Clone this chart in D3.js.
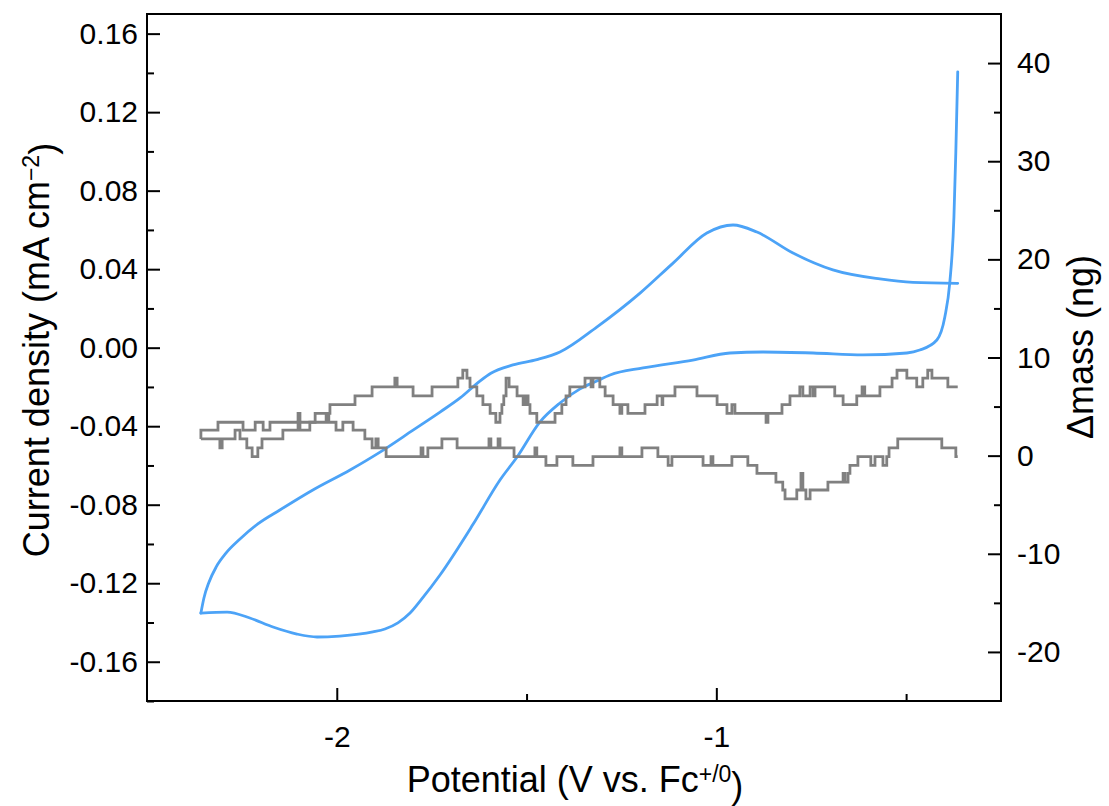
<!DOCTYPE html>
<html>
<head>
<meta charset="utf-8">
<script src="https://cdn.jsdelivr.net/npm/d3@7"></script>
<style>
  html, body { margin: 0; padding: 0; background: #fff; }
  svg { display: block; }
  text { font-family: "Liberation Sans", Arial, sans-serif; fill: #000; }
</style>
</head>
<body>
<svg id="chart" width="1109" height="806"></svg>
<script>
// Cyclic voltammogram: potential (V vs. Fc+/0) and current density (mA cm^-2).
// The loop runs from the positive end along the upper branch to the negative
// vertex, then back along the lower branch.
const cvPotential = [-0.364, -0.482, -0.569, -0.693, -0.798, -0.893, -0.956, -1.025, -1.114, -1.201,
  -1.315, -1.412, -1.473, -1.536, -1.594, -1.623, -1.675, -1.728, -1.799, -1.886,
  -1.965, -2.063, -2.150, -2.208, -2.255, -2.292, -2.318, -2.337, -2.350, -2.358,
  -2.289, -2.229, -2.168, -2.105, -2.052, -1.992, -1.905, -1.873, -1.839, -1.807,
  -1.776, -1.728, -1.641, -1.570, -1.525, -1.465, -1.412, -1.359, -1.315, -1.280,
  -1.193, -1.062, -0.964, -0.877, -0.745, -0.614, -0.498, -0.464, -0.419, -0.398,
  -0.385, -0.374, -0.369, -0.364];
const cvCurrent = [0.0328, 0.0333, 0.0350, 0.0396, 0.0482, 0.0589, 0.0625, 0.0584, 0.0431, 0.0278,
  0.0105, -0.0022, -0.0061, -0.0088, -0.0130, -0.0170, -0.0256, -0.0328, -0.0420, -0.0532,
  -0.0623, -0.0725, -0.0827, -0.0898, -0.0975, -0.1047, -0.1118, -0.1196, -0.1275, -0.1352,
  -0.1347, -0.1377, -0.1423, -0.1459, -0.1474, -0.1469, -0.1448, -0.1433, -0.1402, -0.1352,
  -0.1280, -0.1158, -0.0900, -0.0674, -0.0557, -0.0379, -0.0282, -0.0210, -0.0170, -0.0139,
  -0.0103, -0.0063, -0.0027, -0.0022, -0.0027, -0.0037, -0.0027, -0.0012, 0.0039, 0.0156,
  0.0330, 0.0666, 0.0998, 0.1405];

// Mass change (ng), a stepped signal; lower and upper traces
const massLowerE = [-2.358, -2.308, -2.302, -2.268, -2.255, -2.237, -2.223, -2.208, -2.197, -2.142,
  -2.102, -2.097, -2.071, -2.028, -2.021, -2.002, -1.984, -1.957, -1.926, -1.907,
  -1.897, -1.891, -1.870, -1.778, -1.773, -1.760, -1.723, -1.683, -1.599, -1.594,
  -1.575, -1.570, -1.533, -1.478, -1.473, -1.449, -1.420, -1.378, -1.325, -1.254,
  -1.249, -1.196, -1.154, -1.127, -1.117, -1.035, -1.014, -1.009, -0.959, -0.917,
  -0.893, -0.843, -0.825, -0.819, -0.788, -0.777, -0.772, -0.764, -0.753, -0.706,
  -0.666, -0.661, -0.653, -0.648, -0.627, -0.593, -0.582, -0.561, -0.551, -0.545,
  -0.522, -0.406, -0.369, -0.364];
const massLowerNg = [1.7, 0.8, 1.7, 2.6, 1.7, 0.8, -0.1, 0.8, 1.7, 2.6,
  3.4, 2.6, 3.4, 4.3, 3.4, 2.6, 3.4, 2.6, 1.7, 0.8,
  1.7, 0.8, -0.1, 0.8, -0.1, 0.8, 1.7, 0.8, 1.7, 0.8,
  1.7, 0.8, -0.1, 0.8, -0.1, -1.0, -0.1, -1.0, -0.1, 0.8,
  -0.1, 0.8, -0.1, -1.0, -0.1, -1.0, -0.1, -1.0, -0.1, -1.0,
  -1.8, -2.7, -3.5, -4.4, -3.5, -1.8, -3.5, -4.4, -3.5, -2.7,
  -1.8, -2.7, -1.8, -1.0, -0.1, -1.0, -0.1, -1.0, -0.1, 0.8,
  1.7, 0.8, -0.1, -0.1];

const massUpperE = [-2.358, -2.358, -2.313, -2.247, -2.215, -2.194, -2.176, -2.102, -2.097, -2.057,
  -2.018, -1.952, -1.907, -1.847, -1.841, -1.799, -1.749, -1.681, -1.668, -1.657,
  -1.649, -1.631, -1.615, -1.596, -1.581, -1.570, -1.565, -1.560, -1.554, -1.546,
  -1.525, -1.509, -1.502, -1.496, -1.491, -1.473, -1.425, -1.407, -1.396, -1.386,
  -1.346, -1.330, -1.325, -1.307, -1.293, -1.272, -1.254, -1.249, -1.233, -1.188,
  -1.156, -1.143, -1.141, -1.109, -1.051, -0.998, -0.972, -0.959, -0.951, -0.869,
  -0.864, -0.827, -0.806, -0.780, -0.772, -0.753, -0.745, -0.740, -0.688, -0.666,
  -0.630, -0.616, -0.609, -0.569, -0.537, -0.524, -0.498, -0.472, -0.456, -0.443,
  -0.432, -0.390, -0.364];
const massUpperNg = [1.7, 2.6, 3.4, 2.6, 3.4, 2.6, 3.4, 4.3, 3.4, 4.3,
  5.2, 6.1, 7.0, 7.9, 7.0, 6.1, 7.0, 7.9, 8.7, 7.9,
  7.0, 6.1, 5.2, 4.3, 3.4, 4.3, 5.2, 6.1, 7.9, 7.0,
  6.1, 5.2, 6.1, 5.2, 4.3, 3.4, 4.3, 5.2, 6.1, 7.0,
  7.9, 7.0, 7.9, 7.0, 6.1, 5.2, 4.3, 5.2, 4.3, 5.2,
  6.1, 5.2, 6.1, 7.0, 6.1, 5.2, 4.3, 5.2, 4.3, 3.4,
  4.3, 5.2, 6.1, 7.0, 6.1, 7.0, 6.1, 7.0, 6.1, 5.2,
  6.1, 7.0, 6.1, 7.0, 7.9, 8.7, 7.9, 7.0, 7.9, 8.7,
  7.9, 7.0, 7.0];

// Axis ticks
const xMajorTicks = [-2, -1];
const xMinorTicks = [-1.5, -0.5];
const yLeftMajorTicks = [-0.16, -0.12, -0.08, -0.04, 0.00, 0.04, 0.08, 0.12, 0.16];
const yLeftMinorTicks = [-0.18, -0.14, -0.10, -0.06, -0.02, 0.02, 0.06, 0.10, 0.14];
const yRightMajorTicks = [-20, -10, 0, 10, 20, 30, 40];
const yRightMinorTicks = [-15, -5, 5, 15, 25, 35];

const svg = d3.select("#chart");
const plot = { left: 147, right: 1001, top: 14, bottom: 701 };

const x = d3.scaleLinear().domain([-2.5, -0.25]).range([plot.left, plot.right]);
const yL = d3.scaleLinear().domain([-0.18, 0.17]).range([plot.bottom, plot.top]);
const yR = d3.scaleLinear().domain([-25, 45]).range([plot.bottom, plot.top]);

const fmtHyphen = (digits) => (d) => d.toFixed(digits).replace("\u2212", "-");

// Current trace: split at the negative vertex so each branch runs left to right
const cvPoints = cvPotential.map((e, i) => [e, cvCurrent[i]]);
const vertex = d3.minIndex(cvPotential);
const upperBranch = cvPoints.slice(0, vertex + 1).reverse();
const lowerBranch = cvPoints.slice(vertex);
const cvLine = d3.line().x(d => x(d[0])).y(d => yL(d[1])).curve(d3.curveMonotoneX);
[upperBranch, lowerBranch].forEach(branch => {
  svg.append("path")
    .datum(branch)
    .attr("fill", "none")
    .attr("stroke", "#4ca3f7")
    .attr("stroke-width", 2.8)
    .attr("stroke-linejoin", "round")
    .attr("stroke-linecap", "round")
    .attr("d", cvLine);
});

// Mass traces
const massLine = d3.line().x(d => x(d[0])).y(d => yR(d[1])).curve(d3.curveStepAfter);
[[massLowerE, massLowerNg], [massUpperE, massUpperNg]].forEach(([es, ms]) => {
  svg.append("path")
    .datum(es.map((e, i) => [e, ms[i]]))
    .attr("fill", "none")
    .attr("stroke", "#808080")
    .attr("stroke-width", 2.8)
    .attr("stroke-linejoin", "miter")
    .attr("d", massLine);
});

// Axes with inward ticks
const tickStyle = g => {
  g.select(".domain").remove();
  g.selectAll(".tick line").attr("stroke", "#000").attr("stroke-width", 2);
  g.selectAll(".tick text").style("font-size", "30px").attr("fill", "#000");
};

svg.append("g")
  .attr("transform", `translate(0,${plot.bottom})`)
  .call(d3.axisBottom(x).tickValues(xMajorTicks).tickSizeInner(-13).tickSizeOuter(0)
    .tickPadding(25).tickFormat(fmtHyphen(0)))
  .call(tickStyle);
svg.append("g")
  .attr("transform", `translate(0,${plot.bottom})`)
  .call(d3.axisBottom(x).tickValues(xMinorTicks).tickSizeInner(-7).tickSizeOuter(0).tickFormat(""))
  .call(tickStyle);

svg.append("g")
  .attr("transform", `translate(${plot.left},0)`)
  .call(d3.axisLeft(yL).tickValues(yLeftMajorTicks).tickSizeInner(-13).tickSizeOuter(0)
    .tickPadding(9).tickFormat(fmtHyphen(2)))
  .call(tickStyle);
svg.append("g")
  .attr("transform", `translate(${plot.left},0)`)
  .call(d3.axisLeft(yL).tickValues(yLeftMinorTicks).tickSizeInner(-7).tickSizeOuter(0).tickFormat(""))
  .call(tickStyle);

svg.append("g")
  .attr("transform", `translate(${plot.right},0)`)
  .call(d3.axisRight(yR).tickValues(yRightMajorTicks).tickSizeInner(-13).tickSizeOuter(0)
    .tickPadding(16).tickFormat(fmtHyphen(0)))
  .call(tickStyle);
svg.append("g")
  .attr("transform", `translate(${plot.right},0)`)
  .call(d3.axisRight(yR).tickValues(yRightMinorTicks).tickSizeInner(-7).tickSizeOuter(0).tickFormat(""))
  .call(tickStyle);

// Frame
svg.append("rect")
  .attr("x", plot.left).attr("y", plot.top)
  .attr("width", plot.right - plot.left).attr("height", plot.bottom - plot.top)
  .attr("fill", "none").attr("stroke", "#000").attr("stroke-width", 2);

// Axis titles
const leftTitle = svg.append("text")
  .attr("transform", "translate(49,350) rotate(-90)")
  .attr("text-anchor", "middle")
  .style("font-size", "36px");
leftTitle.append("tspan").text("Current density (mA cm");
leftTitle.append("tspan").attr("dy", "-0.45em").style("font-size", "23px").text("\u22122");
leftTitle.append("tspan").attr("dy", "0.45em").text(")");

svg.append("text")
  .attr("transform", "translate(1093,347) rotate(-90)")
  .attr("text-anchor", "middle")
  .style("font-size", "36px")
  .text("\u0394mass (ng)");

const bottomTitle = svg.append("text")
  .attr("x", 575)
  .attr("y", 792)
  .attr("text-anchor", "middle")
  .style("font-size", "36px");
bottomTitle.append("tspan").text("Potential (V vs. Fc");
bottomTitle.append("tspan").attr("dy", "-0.45em").style("font-size", "23px").text("+/0");
bottomTitle.append("tspan").attr("dy", "0.45em").text(")");
</script>
</body>
</html>
